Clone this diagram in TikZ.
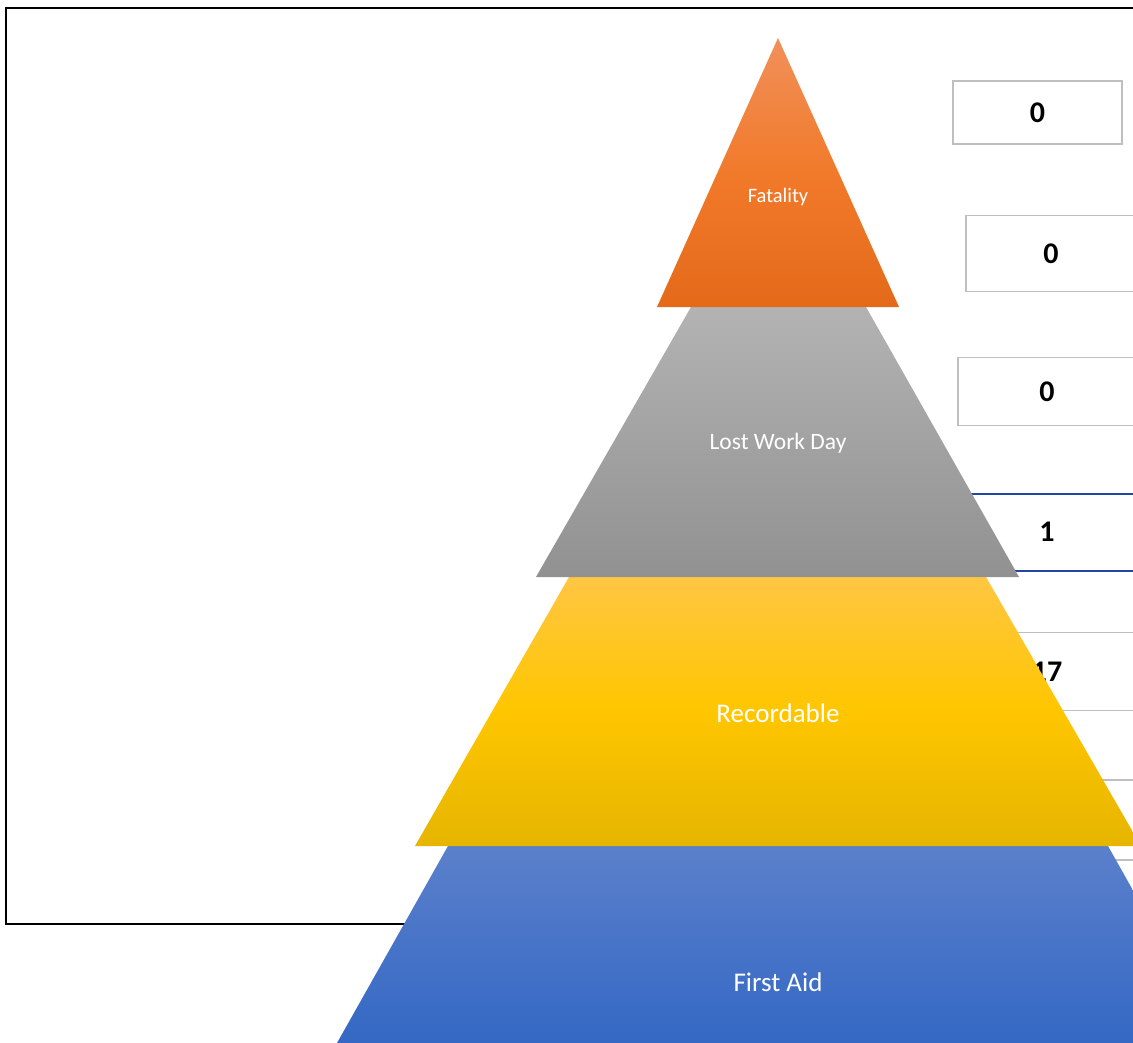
\documentclass[tikz,border=0pt]{standalone}
\usepackage{fontspec}
\setmainfont{Carlito}
\definecolor{boxgray}{HTML}{BFBFBF}
\definecolor{boxblue}{HTML}{2246A0}
\definecolor{orTop}{HTML}{F1905A}
\definecolor{orMid}{HTML}{F17A2A}
\definecolor{orBot}{HTML}{E46A1A}
\definecolor{grTop}{HTML}{B3B3B3}
\definecolor{grBot}{HTML}{919191}
\definecolor{yeTop}{HTML}{FFC643}
\definecolor{yeMid}{HTML}{FFC600}
\definecolor{yeBot}{HTML}{E5B500}
\definecolor{blTop}{HTML}{5B80CB}
\definecolor{blBot}{HTML}{3468C4}
\begin{document}
\begin{tikzpicture}[x=1pt,y=-1pt,
  valbox/.style={draw=boxgray, line width=1.5pt, fill=white, inner sep=0pt,
    font=\bfseries\fontsize{30}{34}\selectfont, text=black},
  lbl/.style={text=white, inner sep=0pt}]
\useasboundingbox (0,0) rectangle (1133,1043);
\clip (0,0) rectangle (1133,1043);
\fill[white] (0,0) rectangle (1133,1043);
% outer frame
\draw[line width=2pt, black] (6,8) rectangle (1170,924);
% value boxes
\node[valbox, minimum width=169pt, minimum height=63pt] (v1) at (1037.5,112.5) {0};
\node[valbox, minimum width=170pt, minimum height=76pt] (v2) at (1051,253.5) {0};
\node[valbox, minimum width=178pt, minimum height=68pt] (v3) at (1047,391.5) {0};
\node[valbox, draw=boxblue, line width=2pt, minimum width=178pt, minimum height=77pt] (v4) at (1047,532) {1};
\node[valbox, minimum width=178pt, minimum height=78pt] (v5) at (1047,671.5) {17};
\node[valbox, minimum width=178pt, minimum height=80pt] (v6) at (1047,820) {};
% pyramid layers
\shade[top color=blTop, bottom color=blBot] (448,846) -- (1108,846) -- (1219,1043) -- (337,1043) -- cycle;
\shade[top color=yeTop, bottom color=yeBot, middle color=yeMid] (569,577) -- (986,577) -- (1141,846) -- (415,846) -- cycle;
\shade[top color=grTop, bottom color=grBot] (691,307) -- (866,307) -- (1019,577) -- (536,577) -- cycle;
\shade[top color=orTop, bottom color=orBot, middle color=orMid] (778,38) -- (899,307) -- (657,307) -- cycle;
% labels
\node[lbl, font=\fontsize{20.5}{24}\selectfont] (tfat) at (778,197.5) {Fatality};
\node[lbl, font=\fontsize{23.5}{28}\selectfont] (tlwd) at (778,443.5) {Lost Work Day};
\node[lbl, font=\fontsize{27}{32}\selectfont] (trec) at (778,713) {Recordable};
\node[lbl, font=\fontsize{27}{32}\selectfont] (tfa) at (778,982) {First Aid};
\end{tikzpicture}
\end{document}
